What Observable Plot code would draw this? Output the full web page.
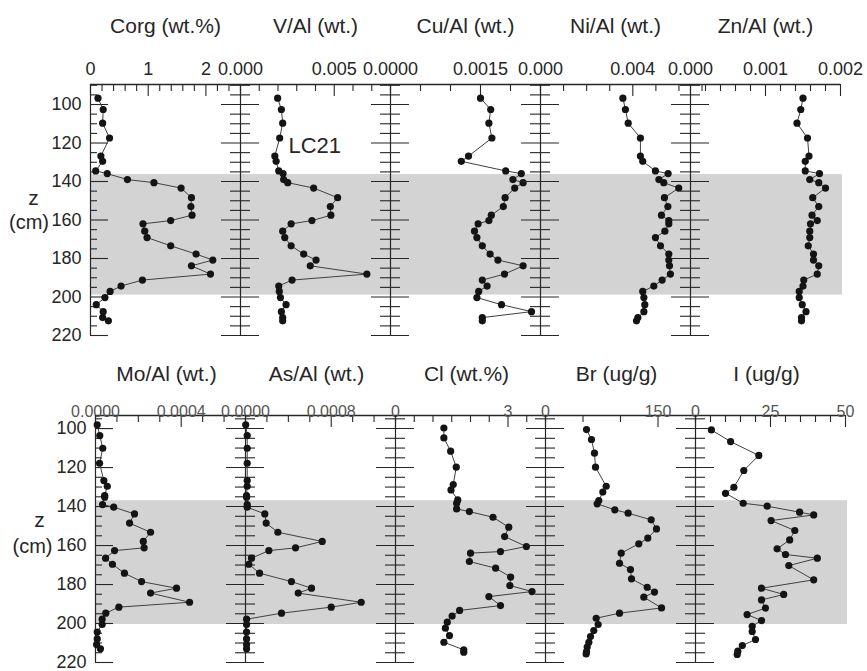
<!DOCTYPE html>
<html><head><meta charset="utf-8">
<script src="https://cdn.jsdelivr.net/npm/d3@7"></script>
<script src="https://cdn.jsdelivr.net/npm/@observablehq/plot@0.6"></script>
<style>
body{margin:0;background:#fff;}
#chart{position:relative;width:867px;height:671px;overflow:hidden;background:#fff;}
#chart svg{position:absolute;}
</style></head><body><div id="chart"></div>
<script>
// ---------- data (depth z in cm, values per panel) ----------
const depthTop = [96.7, 102.6, 109.7, 117.4, 126.8, 129.5, 134.5, 135.9, 139, 140.6, 143.4, 148.4, 153, 157.5, 160.3, 162, 165.8, 169.1, 173.4, 177.7, 180.8, 183.8, 188.1, 191.2, 194.3, 197.1, 200.3, 204, 207.6, 210.7, 212.4];
const corg = [0.13, 0.22, 0.21, 0.33, 0.18, 0.21, 0.09, 0.29, 0.64, 1.10, 1.57, 1.75, 1.74, 1.76, 1.39, 0.91, 0.94, 0.98, 1.39, 1.83, 2.12, 1.75, 2.08, 0.90, 0.53, 0.34, 0.25, 0.10, 0.22, 0.21, 0.31];
const vAl = [0.00198, 0.00218, 0.00225, 0.00209, 0.00183, 0.0019, 0.00204, 0.00227, 0.0023, 0.00252, 0.0039, 0.00518, 0.00479, 0.00482, 0.00381, 0.0027, 0.00225, 0.00236, 0.0027, 0.00337, 0.00403, 0.00372, 0.00674, 0.00275, 0.00204, 0.00207, 0.00213, 0.00243, 0.00218, 0.00225, 0.00225];
const cuAl = [0.0015, 0.00167, 0.00164, 0.00169, 0.0013, 0.00118, 0.00192, 0.00218, 0.00204, 0.00221, 0.00207, 0.00191, 0.00188, 0.00168, 0.00164, 0.00146, 0.0014, 0.00144, 0.00153, 0.00166, 0.00179, 0.00221, 0.0019, 0.00153, 0.00161, 0.00147, 0.00144, 0.00185, 0.00235, 0.00153, 0.00153];
const niAl = [0.00357, 0.00368, 0.0038, 0.00433, 0.00433, 0.00443, 0.00498, 0.00553, 0.00513, 0.00534, 0.00599, 0.00537, 0.00552, 0.00524, 0.00556, 0.00556, 0.00539, 0.00498, 0.0052, 0.00556, 0.00556, 0.00559, 0.00563, 0.00527, 0.00491, 0.00443, 0.00448, 0.00452, 0.00448, 0.00422, 0.00416];
const znAl = [0.0015, 0.00147, 0.00142, 0.00156, 0.00158, 0.00153, 0.00153, 0.00172, 0.00159, 0.00171, 0.0018, 0.00163, 0.00171, 0.00162, 0.00169, 0.0016, 0.00159, 0.00159, 0.00157, 0.00164, 0.00164, 0.00171, 0.00169, 0.00151, 0.0015, 0.00145, 0.00145, 0.00149, 0.00154, 0.00148, 0.00148];

const depthMoAs = [98.1, 103.6, 110.1, 117.8, 126.7, 129.6, 134.4, 135.2, 139, 140.3, 143.8, 148.5, 153.2, 157.9, 161.2, 162.6, 166.5, 169.6, 174.2, 178.5, 181.9, 184.4, 189.1, 191.6, 194.7, 197.8, 200.5, 204.4, 207.9, 210.8, 213];
const moAl = [0.000008, 0.00002, 0.000034, 0.000019, 0.000039, 0.000055, 0.000043, 0.000043, 0.000033, 0.000085, 0.000182, 0.000159, 0.000257, 0.000223, 0.000227, 0.000089, 0.000047, 0.000079, 0.000135, 0.000215, 0.000378, 0.000257, 0.000439, 0.000109, 0.000048, 0.000031, 0.000031, 0.000008, 0.000008, 0.000005, 0.000023];
const asAl = [0.000002, 0.000016, 0.000016, 0.000016, 0.000016, 0.000016, 0.00001, 0.00001, 0.000016, 0.000016, 0.00018, 0.000193, 0.000302, 0.000716, 0.000467, 0.000218, 0.000056, 0.000031, 0.000131, 0.000429, 0.000616, 0.000492, 0.00108, 0.0008, 0.000336, 0.00001, 0.00001, 0.00001, 0.00001, 0.00001, 0.00001];
const depthCl = [99.7, 104.8, 111.6, 119.8, 128.7, 131.5, 136.6, 138.3, 141.2, 142.6, 145.5, 150.6, 155.4, 160.5, 163.1, 163.9, 168.2, 171.6, 176.2, 180.5, 183.6, 186.2, 190.8, 193.3, 196.2, 199.3, 202.4, 206.2, 209.6, 213.5, 214.7];
const cl = [1.29, 1.29, 1.47, 1.62, 1.54, 1.48, 1.66, 1.63, 1.63, 1.97, 2.6, 3.02, 2.91, 3.49, 2.8, 2.0, 1.97, 2.67, 3.07, 3.05, 3.64, 2.49, 2.8, 1.71, 1.51, 1.38, 1.33, 1.44, 1.29, 1.82, 1.82];
const depthBr = [100.5, 105.6, 112.6, 119.8, 129.6, 132.6, 136.9, 138.6, 141.7, 143.4, 146.8, 151.5, 156.2, 159.1, 163.9, 169.1, 172.3, 177.1, 181.4, 183.9, 186.5, 192, 194.7, 197.3, 200.5, 203.6, 206.7, 209.6, 212.1, 214.4, 215.6];
const br = [54.7, 61.3, 65.3, 66.7, 80.9, 76.4, 71.1, 68.9, 92.4, 110.2, 140.9, 148, 136.4, 124.4, 100.9, 98.7, 113.3, 114.7, 135.6, 145.3, 131.1, 154.7, 98.7, 67.6, 70.2, 64.4, 60, 57.8, 55.6, 54.7, 54.2];
const depthI = [100.7, 106.7, 113.8, 121.5, 130.1, 133.2, 138.3, 139.8, 142.9, 144.3, 147.2, 152.3, 157.1, 161.7, 164.6, 166.5, 170.3, 177.6, 181.9, 185.1, 187.9, 192.1, 195.4, 198.5, 201.4, 204.1, 208.2, 211.3, 214.2, 215.9];
const iodine = [5.3, 11.7, 21.1, 16.1, 12.8, 10, 15.9, 23.9, 34.7, 39.4, 25.2, 33.1, 31.4, 27.2, 30, 40.6, 31.1, 39.4, 22, 29.4, 22, 23.3, 17.2, 22, 18.9, 18.9, 20, 15.6, 14.1, 13.9];

// shaded interval (cm)
const bandTop = [136.4, 199];
const bandBottom = [137, 200.5];

// titles
const titlesTop = ["Corg (wt.%)", "V/Al (wt.)", "Cu/Al (wt.)", "Ni/Al (wt.)", "Zn/Al (wt.)"];
const titlesBottom = ["Mo/Al (wt.)", "As/Al (wt.)", "Cl (wt.%)", "Br (ug/g)", "I (ug/g)"];

// x domains and ticks
const domainsTop = [[0, 2.6], [0, 0.008], [0, 0.0025], [0, 0.0065], [0, 0.002]];
const tickStepsTop = [0.2, 0.001, 0.0005, 0.001, 0.0002];
const tickValuesTop = [[0, 1, 2], [0, 0.005], [0, 0.0015], [0, 0.004], [0, 0.001, 0.002]];
const tickLabelsTop = [["0", "1", "2"], ["0.000", "0.005"], ["0.0000", "0.0015"], ["0.000", "0.004"], ["0.000", "0.001", "0.002"]];

const domainsBottom = [[0, 0.0007], [0, 0.0014], [0, 4], [0, 200], [0, 50]];
const tickStepsBottom = [0.0001, 0.0002, 0.5, 50, 5];
const tickValuesBottom = [[0, 0.0004], [0, 0.0008], [0, 3], [0, 150], [0, 25, 50]];
const tickLabelsBottom = [["0.0000", "0.0004"], ["0.0000", "0.0008"], ["0", "3"], ["0", "150"], ["0", "25", "50"]];

// depth axis
const depthTicks = [100, 120, 140, 160, 180, 200, 220];
const depthStep = 5;
const axisTitle = ["z", "(cm)"];
const coreLabel = ["LC21"];

// ---------- drawing ----------
const FONT = '"Liberation Sans", Arial, Helvetica, sans-serif';
const INK = "#262626";
const chart = document.getElementById("chart");
const W = 150;

function panel(o) {
  const {i, title, z, v, domain, step, tvals, tlabels, row} = o;
  const ml = i === 0 ? row.plotLeft : 30;
  const mr = 30;
  const mt = row.frameTop - row.svgTop;
  const innerH = row.frameBottom - row.frameTop;
  const height = row.svgHeight;
  const mb = height - mt - innerH;
  const k = W / (domain[1] - domain[0]);
  const pxcm = innerH / (row.yDomain[1] - row.yDomain[0]);
  const data = z.map((d, j) => ({z: d, v: v[j]}));
  const xt = d3.range(0, Math.round((domain[1] - domain[0]) / step) + 1).map(n => domain[0] + n * step);
  const isMajorX = d => tvals.some(t => Math.abs(t - d) < step / 10);
  const yt = d3.range(Math.ceil(row.yDomain[0] / depthStep) * depthStep, 220 + 0.1, depthStep);
  const isMajorY = d => depthTicks.includes(d);
  const last = i === 4;

  const marks = [
    Plot.rect([row.band], {x1: () => domain[0], x2: () => domain[1] + (last ? 2 / k : 0), y1: d => d[0], y2: d => d[1], fill: "#d3d3d3"}),
    Plot.ruleY([row.yDomain[0]], {x1: () => domain[0], x2: () => domain[1], stroke: INK, strokeWidth: 1.3}),
    Plot.ruleX(xt, {x: d => d, y1: () => row.yDomain[0], y2: d => row.yDomain[0] + (isMajorX(d) ? 12 : 7) / pxcm, stroke: INK, strokeWidth: 1.1}),
    Plot.text(tvals, {x: d => d, text: (d, j) => tlabels[j], frameAnchor: "top", dy: row.labelDy, fontSize: row.labelSize, fill: row.labelFill, fontFamily: FONT}),
    Plot.text([title], {frameAnchor: "top", dx: row.titleDx, dy: row.titleDy, fontSize: 21, fill: INK, fontFamily: FONT}),
    Plot.ruleX([domain[0]], {stroke: INK, strokeWidth: 1.2})
  ];
  if (i === 0) {
    marks.push(
      Plot.ruleY(yt, {y: d => d, x1: () => domain[0], x2: d => domain[0] + (isMajorY(d) ? 18 : 7) / k, stroke: INK, strokeWidth: 1.1}),
      Plot.text(depthTicks, {y: d => d, text: d => String(d), frameAnchor: "left", dx: -9, textAnchor: "end", fontSize: 18, fill: INK, fontFamily: FONT}),
      Plot.text([axisTitle[0]], {frameAnchor: "left", textAnchor: "middle", dx: row.zDx, dy: row.zDy, fontSize: 21, fill: INK, fontFamily: FONT}),
      Plot.text([axisTitle[1]], {frameAnchor: "left", textAnchor: "middle", dx: row.cmDx, dy: row.cmDy, fontSize: 20, fill: INK, fontFamily: FONT})
    );
  } else {
    marks.push(
      Plot.ruleY(yt, {y: d => d, x1: d => domain[0] - (isMajorY(d) ? 19 : 10) / k, x2: d => domain[0] + (isMajorY(d) ? 19 : 10) / k, stroke: INK, strokeWidth: 1.1})
    );
  }
  if (o.label) {
    marks.push(Plot.text(o.label, {frameAnchor: "top-left", dx: 48, dy: 53, textAnchor: "start", fontSize: 22, fill: INK, fontFamily: FONT}));
  }
  marks.push(
    Plot.line(data, {x: "v", y: "z", stroke: "#404040", strokeWidth: 1}),
    Plot.dot(data, {x: "v", y: "z", r: 3.6, fill: "#141414", stroke: "none"})
  );

  const svg = Plot.plot({
    width: ml + W + mr, height,
    marginLeft: ml, marginRight: mr, marginTop: mt, marginBottom: mb,
    x: {domain, axis: null},
    y: {domain: row.yDomain, reverse: true, axis: null},
    style: {background: "transparent", overflow: "visible", fontFamily: FONT},
    marks
  });
  svg.style.left = (row.plotLeft + W * i - ml) + "px";
  svg.style.top = row.svgTop + "px";
  chart.appendChild(svg);
}

const rowTop = {svgTop: 0, svgHeight: 345, frameTop: 84, frameBottom: 335, plotLeft: 90, yDomain: [89.6, 220], band: bandTop,
  labelDy: -22, labelSize: 18, labelFill: INK, titleDy: -66, titleDx: 0, zDx: -57, zDy: -11.5, cmDx: -61.5, cmDy: 12.5};
const rowBottom = {svgTop: 345, svgHeight: 326, frameTop: 415, frameBottom: 662, plotLeft: 95, yDomain: [93.3, 220], band: bandBottom,
  labelDy: -10, labelSize: 16, labelFill: "#555", titleDy: -49, titleDx: -4, zDx: -56, zDy: -18.5, cmDx: -63, cmDy: 8};

const seriesTop = [[depthTop, corg], [depthTop, vAl], [depthTop, cuAl], [depthTop, niAl], [depthTop, znAl]];
const seriesBottom = [[depthMoAs, moAl], [depthMoAs, asAl], [depthCl, cl], [depthBr, br], [depthI, iodine]];

for (let i = 0; i < 5; i++) {
  panel({i, row: rowTop, title: titlesTop[i], z: seriesTop[i][0], v: seriesTop[i][1], domain: domainsTop[i], step: tickStepsTop[i],
    tvals: tickValuesTop[i], tlabels: tickLabelsTop[i], label: i === 1 ? coreLabel : null});
}
for (let i = 0; i < 5; i++) {
  panel({i, row: rowBottom, title: titlesBottom[i], z: seriesBottom[i][0], v: seriesBottom[i][1], domain: domainsBottom[i], step: tickStepsBottom[i],
    tvals: tickValuesBottom[i], tlabels: tickLabelsBottom[i]});
}
</script></body></html>
